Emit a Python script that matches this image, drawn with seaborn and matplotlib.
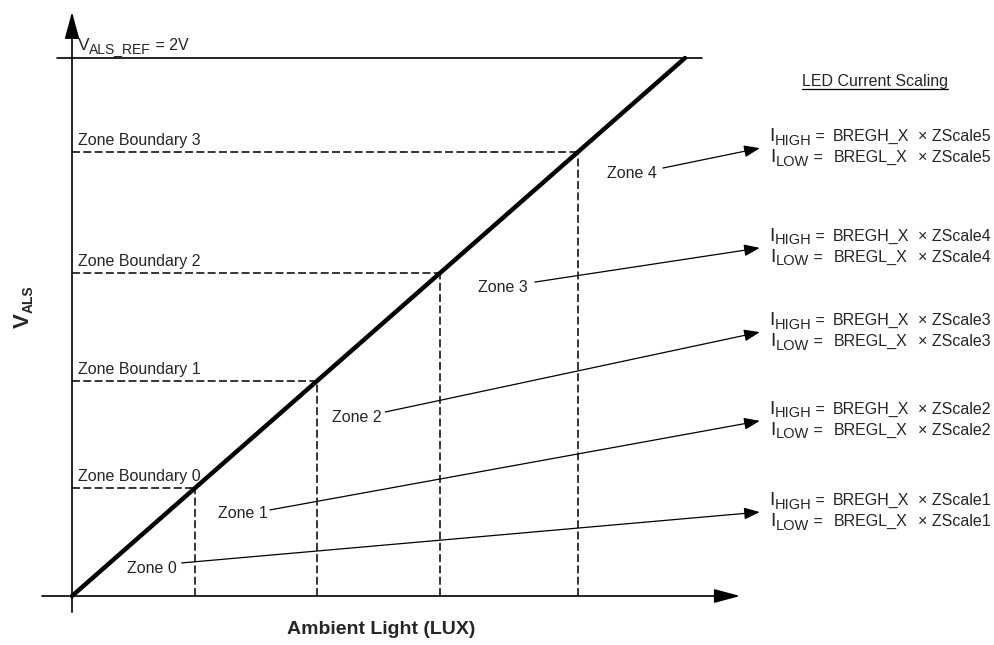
import numpy as np
import pandas as pd
import matplotlib
matplotlib.use("Agg")
import matplotlib.pyplot as plt
import seaborn as sns

sns.set_style("white")
plt.rcParams["font.family"] = ["Liberation Sans", "DejaVu Sans"]

# ---------------------------------------------------------------------------
# Data: V_ALS rises linearly with ambient light up to V_ALS_REF = 2V
# ---------------------------------------------------------------------------
lux_line = [0, 100]
vals_line = [0.0, 2.0]
v_ref = 2.0

boundary_names = ["Zone Boundary 0", "Zone Boundary 1", "Zone Boundary 2", "Zone Boundary 3"]
boundary_lux = [20, 40, 60, 82.5]
boundary_v = [0.4, 0.8, 1.2, 1.65]

zone_names = ["Zone 0", "Zone 1", "Zone 2", "Zone 3", "Zone 4"]
scale_names = ["ZScale1", "ZScale2", "ZScale3", "ZScale4", "ZScale5"]

# label / arrow placement (layout only)
zone_text_x = [13.05, 27.9, 46.5, 70.3, 91.4]
zone_text_y = [0.104, 0.305, 0.665, 1.145, 1.572]
arrow_start_x = [17.9, 32.3, 51.1, 75.5, 96.4]
arrow_start_y = [0.123, 0.320, 0.684, 1.167, 1.591]
arrow_end_x = 112.2
arrow_end_y = [0.312, 0.651, 0.981, 1.294, 1.665]

FS = 11.5
PX_X = 6.13   # pixels per lux unit
PX_Y = 269.0  # pixels per volt

fig = plt.figure(figsize=(9.94, 6.45), dpi=100)
ax = fig.add_axes([0, 0, 1, 1])
ax.set_xlim(-72 / PX_X, 922 / PX_X)
ax.set_ylim(-49 / PX_Y, 596 / PX_Y)
ax.axis("off")
renderer = fig.canvas.get_renderer()


def chain(x, y, parts, weight="normal"):
    # draw text pieces one after another (main letter, subscript, rest)
    for s, fs, drop in parts:
        t = ax.text(x, y - drop / PX_Y, s, fontsize=fs, fontweight=weight,
                    ha="left", va="baseline")
        x += t.get_window_extent(renderer).width / PX_X


def chain_vertical(x, y, parts, weight="bold"):
    for s, fs, drop in parts:
        t = ax.text(x + drop / PX_X, y, s, fontsize=fs, fontweight=weight,
                    rotation=90, rotation_mode="anchor", ha="left", va="baseline")
        y += t.get_window_extent(renderer).height / PX_Y


# axes with arrow heads
ax.annotate("", xy=(0, 2.171), xytext=(0, -0.06),
            arrowprops=dict(arrowstyle="-|>,head_length=1.65,head_width=0.45",
                            mutation_scale=10, lw=1.2, color="black",
                            shrinkA=0, shrinkB=0))
ax.annotate("", xy=(109.0, 0), xytext=(-4.9, 0),
            arrowprops=dict(arrowstyle="-|>,head_length=1.6,head_width=0.43",
                            mutation_scale=10, lw=1.2, color="black",
                            shrinkA=0, shrinkB=0))

# reference level
ax.plot([-2.45, 102.8], [v_ref, v_ref], color="black", lw=1.2)
chain(0.9, v_ref + 0.03, [("V", 12.5, 0), ("ALS_REF", 10, 3.2), (" = 2V", FS, 0)])

# zone boundaries
for name, bx, bv in zip(boundary_names, boundary_lux, boundary_v):
    ax.plot([0, bx], [bv, bv], color="black", lw=1.1, ls=(0, (5.2, 2.2)))
    ax.plot([bx, bx], [0, bv], color="black", lw=1.1, ls=(0, (5.2, 2.2)))
    ax.text(1.0, bv + 0.026, name, fontsize=FS, ha="left", va="baseline")

# transfer line
sns.lineplot(x=lux_line, y=vals_line, ax=ax, color="black", lw=3.2)

# zones + arrows to scaling equations
for i, name in enumerate(zone_names):
    ax.text(zone_text_x[i], zone_text_y[i], name, fontsize=FS, ha="center", va="center")
    ax.annotate("", xy=(arrow_end_x, arrow_end_y[i]),
                xytext=(arrow_start_x[i], arrow_start_y[i]),
                arrowprops=dict(arrowstyle="-|>,head_length=0.95,head_width=0.36",
                                mutation_scale=10, lw=0.9, color="black",
                                shrinkA=0, shrinkB=0))
    yh = arrow_end_y[i] + 0.026
    yl = arrow_end_y[i] - 0.052
    chain(113.7, yh, [("I", 14, 0), ("HIGH", 10.5, 3.5), (" =", FS, 0)])
    ax.text(124.1, yh, "BREGH_X", fontsize=FS, ha="left", va="baseline")
    ax.text(138.0, yh, "\u00d7 " + scale_names[i], fontsize=FS, ha="left", va="baseline")
    chain(113.9, yl, [("I", 14, 0), ("LOW", 10.5, 3.5), (" =", FS, 0)])
    ax.text(124.3, yl, "BREGL_X", fontsize=FS, ha="left", va="baseline")
    ax.text(138.0, yl, "\u00d7 " + scale_names[i], fontsize=FS, ha="left", va="baseline")

# header with underline
hdr = ax.text(131.0, 1.896, "LED Current Scaling", fontsize=FS, ha="center", va="baseline")
bb = hdr.get_window_extent(renderer).transformed(ax.transData.inverted())
ax.plot([bb.x0, bb.x1], [1.885, 1.885], color="black", lw=0.9)

# axis titles
ax.text(50.4, -0.123, "Ambient Light (LUX)", fontsize=14, fontweight="bold",
        ha="center", va="center")
chain_vertical(-7.1, 0.996, [("V", 16, 0), ("ALS", 10, 4)])

fig.savefig("out.png", dpi=100)
